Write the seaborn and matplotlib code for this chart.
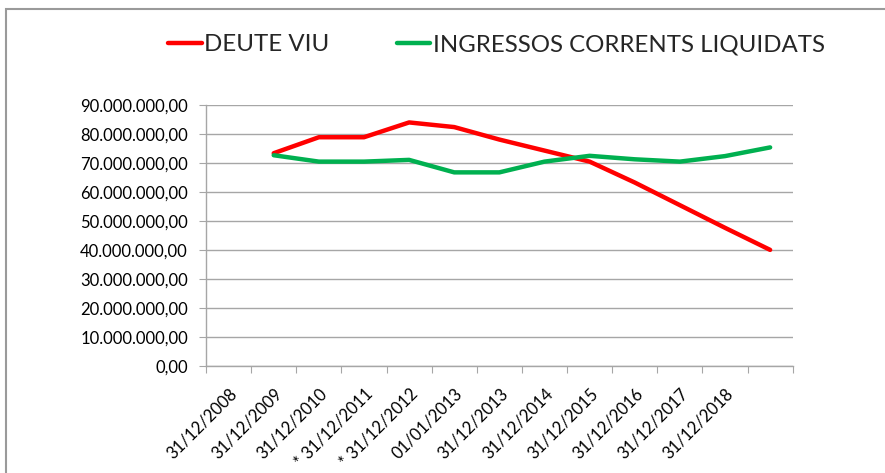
import numpy as np
import pandas as pd
import matplotlib
matplotlib.use("Agg")
import matplotlib.pyplot as plt
from matplotlib.ticker import FuncFormatter, FixedLocator
import seaborn as sns

# category labels (last category has no label, first category has no data)
dates = ["31/12/2008", "31/12/2009", "31/12/2010", "* 31/12/2011", "* 31/12/2012",
         "01/01/2013", "31/12/2013", "31/12/2014", "31/12/2015", "31/12/2016",
         "31/12/2017", "31/12/2018", ""]
deute_viu = [np.nan, 73.3e6, 78.8e6, 78.8e6, 83.9e6, 82.3e6, 78.0e6, 74.2e6,
             70.4e6, 63.2e6, 55.4e6, 47.6e6, 40.0e6]
ingressos = [np.nan, 72.6e6, 70.4e6, 70.4e6, 71.0e6, 66.7e6, 66.7e6, 70.4e6,
             72.4e6, 71.2e6, 70.4e6, 72.3e6, 75.3e6]
series_names = ["DEUTE VIU", "INGRESSOS CORRENTS LIQUIDATS"]


def make_chart():
    sns.set_style("white")
    plt.rcParams['font.family'] = ['Lato', 'DejaVu Sans']

    pos = np.arange(len(dates))
    df = pd.concat([
        pd.DataFrame({'pos': pos, 'value': deute_viu, 'serie': series_names[0]}),
        pd.DataFrame({'pos': pos, 'value': ingressos, 'serie': series_names[1]}),
    ], ignore_index=True)

    fig = plt.figure(figsize=(8.85, 4.73), dpi=100)
    ax = fig.add_axes([0.2328, 0.2262, 0.6629, 0.5524])

    sns.lineplot(data=df, x='pos', y='value', hue='serie',
                 palette=["#ff0000", "#00b050"], linewidth=3.2, ax=ax,
                 legend=True)

    ax.set_xlim(-0.5, len(dates) - 0.5)
    ax.set_ylim(0, 90e6)
    ax.set_yticks(np.arange(0, 90e6 + 1, 10e6))
    ax.yaxis.set_major_formatter(FuncFormatter(
        lambda v, p: f"{v:,.2f}".replace(",", "X").replace(".", ",").replace("X", ".")))
    ax.grid(axis='y', color='#a6a6a6', linewidth=1.0)
    ax.set_axisbelow(True)

    # tick marks on category boundaries, labels on category centres
    ax.xaxis.set_major_locator(FixedLocator(np.arange(-0.5, len(dates), 1.0)))
    ax.xaxis.set_major_formatter(FuncFormatter(lambda v, p: ""))
    ax.xaxis.set_minor_locator(FixedLocator(pos))
    ax.set_xticklabels(dates, minor=True, rotation=45, ha='right',
                       rotation_mode='anchor', fontsize=12)
    ax.tick_params(axis='x', which='major', direction='out', length=5,
                   color='#a6a6a6', bottom=True)
    ax.tick_params(axis='x', which='minor', length=0, pad=14, colors='black')
    ax.tick_params(axis='y', direction='out', length=5, color='#a6a6a6',
                   left=True, labelsize=12, pad=8, labelcolor='black')

    for s in ['top', 'right']:
        ax.spines[s].set_visible(False)
    for s in ['left', 'bottom']:
        ax.spines[s].set_color('#a6a6a6')
        ax.spines[s].set_linewidth(1.0)

    ax.set_xlabel('')
    ax.set_ylabel('')

    handles, labels = ax.get_legend_handles_labels()
    ax.legend(handles, labels, loc='center', bbox_to_anchor=(0.561, 0.905),
              bbox_transform=fig.transFigure, ncol=2, frameon=False,
              fontsize=17.3, handlelength=1.4, handletextpad=0.1,
              columnspacing=2.8)

    # outer chart border
    fig.add_artist(plt.Rectangle((6 / 885, -0.1), 2, 1.1 - 9 / 473,
                                 transform=fig.transFigure, fill=False,
                                 edgecolor='#9a9a9a', linewidth=1.5))

    plt.savefig('out.png', dpi=100)


if __name__ == '__main__':
    make_chart()
